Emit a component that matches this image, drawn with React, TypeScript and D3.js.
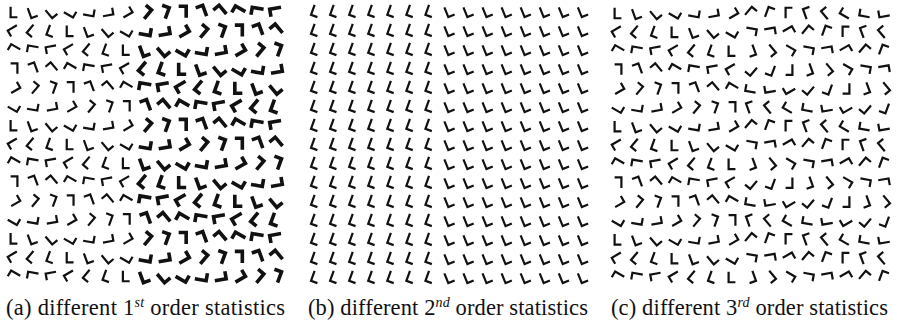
import React from "react";
import * as d3 from "d3";

// Orientation index per glyph (× 20° counter-clockwise), six distinct row patterns
const ROW_PATTERNS: number[][] = [
  [0, 1, 2, 3, 4, 5, 6, 7, 8, 9, 10, 11, 12, 13, 14],
  [-3, -2, -1, 0, 1, 2, 3, 4, 5, 6, 7, 8, 9, 10, 11],
  [-6, -5, -4, -3, -2, -1, 0, 1, 2, 3, 4, 5, 6, 7, 8],
  [-9, -8, -7, -6, -5, -4, -3, -2, -1, 0, 1, 2, 3, 4, 5],
  [-12, -11, -10, -9, -8, -7, -6, -5, -4, -3, -2, -1, 0, 1, 2],
  [-15, -14, -13, -12, -11, -10, -9, -8, -7, -6, -5, -4, -3, -2, -1],
];
const ROW_ORDER = [0, 1, 2, 3, 4, 5, 0, 1, 2, 3, 4, 5, 0, 1, 2];
const ANGLE_STEP = 20;
// panel (b): angle per column (degrees)
const B_COL_ANGLES = [-20, -20, -20, -20, -20, -20, -20, 22, 22, 22, 22, 22, 22, 22, 22];
const SPLIT_COL = 7; // columns from here form the second texture region

const CAPTIONS = [
  { pre: "(a) different 1", sup: "st", post: " order statistics" },
  { pre: "(b) different 2", sup: "nd", post: " order statistics" },
  { pre: "(c) different 3", sup: "rd", post: " order statistics" },
];

const W = 897, H = 329;
const NC = 15, NR = 15;

const panels = [
  { x0: 14, x1: 276, y0: 12, y1: 276, capX: 6, capW: 279 },
  { x0: 316, x1: 583, y0: 11, y1: 277, capX: 308, capW: 280 },
  { x0: 618, x1: 884, y0: 13, y1: 277, capX: 611, capW: 277 },
];

function Glyph({ cx, cy, angle, mirror, bold }: { cx: number; cy: number; angle: number; mirror: boolean; bold: boolean }) {
  const h = bold ? 11.5 : 10.5;
  const w = bold ? 7.5 : 6.8;
  const sx = mirror ? -w : w;
  const d = `M0,${-h}L0,0L${sx},0`;
  const ccx = sx / 2, ccy = -h / 2;
  return (
    <path
      d={d}
      transform={`translate(${cx},${cy}) rotate(${-angle}) translate(${-ccx},${-ccy})`}
      fill="none"
      stroke="#111"
      strokeWidth={bold ? 3.6 : 2.2}
      strokeLinejoin="miter"
      strokeLinecap="butt"
    />
  );
}

export default function App() {
  const cols = d3.range(NC);
  const rows = d3.range(NR);
  const glyphs: JSX.Element[] = [];
  panels.forEach((p, pi) => {
    const xs = d3.scaleLinear().domain([0, NC - 1]).range([p.x0, p.x1]);
    const ys = d3.scaleLinear().domain([0, NR - 1]).range([p.y0, p.y1]);
    rows.forEach((r) => {
      const pat = ROW_PATTERNS[ROW_ORDER[r]];
      cols.forEach((c) => {
        const second = c >= SPLIT_COL;
        let angle: number, mirror = false, bold = false;
        if (pi === 1) {
          angle = B_COL_ANGLES[c];
        } else {
          angle = pat[c] * ANGLE_STEP;
          if (pi === 0) bold = second;
          if (pi === 2) mirror = second;
        }
        glyphs.push(
          <Glyph key={`${pi}-${r}-${c}`} cx={xs(c)} cy={ys(r)} angle={angle} mirror={mirror} bold={bold} />
        );
      });
    });
  });
  return (
    <svg width={W} height={H} style={{ position: "absolute", left: 0, top: 0, background: "#fff" }}>
      <rect width={W} height={H} fill="#fff" />
      {glyphs}
      {CAPTIONS.map((cap, i) => (
        <text
          key={i}
          x={panels[i].capX}
          y={315}
          textLength={panels[i].capW}
          lengthAdjust="spacing"
          fontFamily="Liberation Serif"
          fontSize={22.5}
          fill="#111"
        >
          {cap.pre}
          <tspan fontStyle="italic" fontSize={14} dy={-8}>{cap.sup}</tspan>
          <tspan dy={8}>{cap.post}</tspan>
        </text>
      ))}
    </svg>
  );
}
